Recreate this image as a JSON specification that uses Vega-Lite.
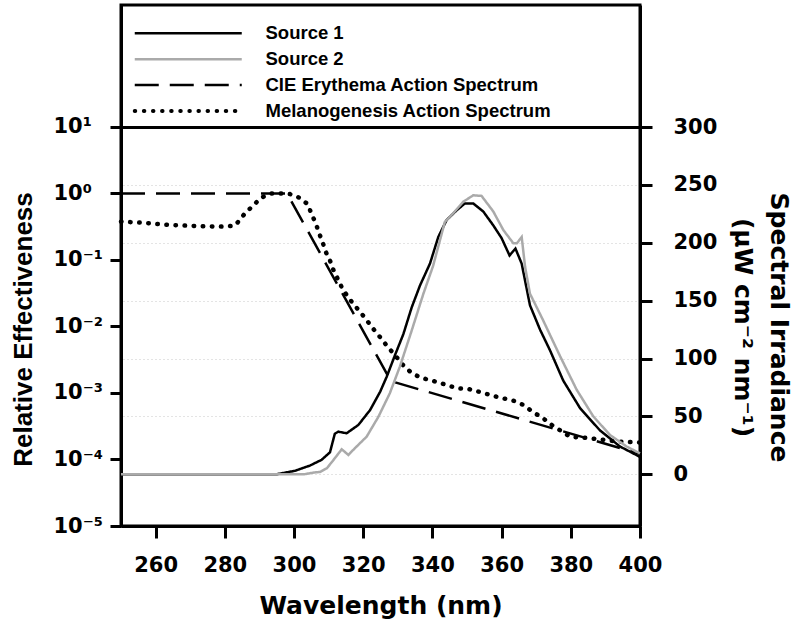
{
  "$schema": "https://vega.github.io/schema/vega-lite/v6.json",
  "width": 519,
  "height": 521,
  "autosize": {"type": "none"},
  "padding": {"left": 121, "top": 5, "right": 160, "bottom": 101},
  "background": "white",
  "config": {
    "view": {"stroke": "black", "strokeWidth": 3},
    "axis": {
      "domainColor": "black", "domainWidth": 3,
      "tickColor": "black", "tickWidth": 3, "tickSize": 12,
      "labelColor": "black", "titleColor": "black",
      "labelFont": "DejaVu Sans", "labelFontWeight": "bold", "labelFontSize": 21,
      "labelFlush": false,
      "grid": false
    }
  },
  "datasets": {
    "spectra": [
      {"series": "CIE Erythema Action Spectrum", "wavelength": 250, "eff": 1},
      {"series": "CIE Erythema Action Spectrum", "wavelength": 298, "eff": 1},
      {"series": "CIE Erythema Action Spectrum", "wavelength": 328, "eff": 0.00151},
      {"series": "CIE Erythema Action Spectrum", "wavelength": 400, "eff": 0.0001216},
      {"series": "Melanogenesis Action Spectrum", "wavelength": 250, "eff": 0.377},
      {"series": "Melanogenesis Action Spectrum", "wavelength": 256, "eff": 0.364},
      {"series": "Melanogenesis Action Spectrum", "wavelength": 264, "eff": 0.336},
      {"series": "Melanogenesis Action Spectrum", "wavelength": 272, "eff": 0.324},
      {"series": "Melanogenesis Action Spectrum", "wavelength": 280, "eff": 0.317},
      {"series": "Melanogenesis Action Spectrum", "wavelength": 283, "eff": 0.33},
      {"series": "Melanogenesis Action Spectrum", "wavelength": 285.5, "eff": 0.479},
      {"series": "Melanogenesis Action Spectrum", "wavelength": 288, "eff": 0.646},
      {"series": "Melanogenesis Action Spectrum", "wavelength": 290.6, "eff": 0.871},
      {"series": "Melanogenesis Action Spectrum", "wavelength": 293.5, "eff": 1.0},
      {"series": "Melanogenesis Action Spectrum", "wavelength": 296.2, "eff": 1.0},
      {"series": "Melanogenesis Action Spectrum", "wavelength": 298.8, "eff": 0.98},
      {"series": "Melanogenesis Action Spectrum", "wavelength": 301.4, "eff": 0.87},
      {"series": "Melanogenesis Action Spectrum", "wavelength": 304, "eff": 0.69},
      {"series": "Melanogenesis Action Spectrum", "wavelength": 305, "eff": 0.5},
      {"series": "Melanogenesis Action Spectrum", "wavelength": 306.3, "eff": 0.355},
      {"series": "Melanogenesis Action Spectrum", "wavelength": 307.2, "eff": 0.257},
      {"series": "Melanogenesis Action Spectrum", "wavelength": 308.2, "eff": 0.19},
      {"series": "Melanogenesis Action Spectrum", "wavelength": 309.2, "eff": 0.132},
      {"series": "Melanogenesis Action Spectrum", "wavelength": 310.4, "eff": 0.098},
      {"series": "Melanogenesis Action Spectrum", "wavelength": 311.4, "eff": 0.071},
      {"series": "Melanogenesis Action Spectrum", "wavelength": 314, "eff": 0.037},
      {"series": "Melanogenesis Action Spectrum", "wavelength": 316, "eff": 0.026},
      {"series": "Melanogenesis Action Spectrum", "wavelength": 318.3, "eff": 0.0186},
      {"series": "Melanogenesis Action Spectrum", "wavelength": 320.5, "eff": 0.0135},
      {"series": "Melanogenesis Action Spectrum", "wavelength": 322.7, "eff": 0.0095},
      {"series": "Melanogenesis Action Spectrum", "wavelength": 324.9, "eff": 0.0069},
      {"series": "Melanogenesis Action Spectrum", "wavelength": 327, "eff": 0.005},
      {"series": "Melanogenesis Action Spectrum", "wavelength": 329.2, "eff": 0.0037},
      {"series": "Melanogenesis Action Spectrum", "wavelength": 331.6, "eff": 0.0026},
      {"series": "Melanogenesis Action Spectrum", "wavelength": 333.8, "eff": 0.00204},
      {"series": "Melanogenesis Action Spectrum", "wavelength": 336.2, "eff": 0.00174},
      {"series": "Melanogenesis Action Spectrum", "wavelength": 338.8, "eff": 0.00158},
      {"series": "Melanogenesis Action Spectrum", "wavelength": 341.7, "eff": 0.00145},
      {"series": "Melanogenesis Action Spectrum", "wavelength": 344.6, "eff": 0.00129},
      {"series": "Melanogenesis Action Spectrum", "wavelength": 347.5, "eff": 0.00117},
      {"series": "Melanogenesis Action Spectrum", "wavelength": 350.4, "eff": 0.00115},
      {"series": "Melanogenesis Action Spectrum", "wavelength": 353.3, "eff": 0.00105},
      {"series": "Melanogenesis Action Spectrum", "wavelength": 358.1, "eff": 0.00089},
      {"series": "Melanogenesis Action Spectrum", "wavelength": 363.6, "eff": 0.00076},
      {"series": "Melanogenesis Action Spectrum", "wavelength": 366.3, "eff": 0.00066},
      {"series": "Melanogenesis Action Spectrum", "wavelength": 369, "eff": 0.00052},
      {"series": "Melanogenesis Action Spectrum", "wavelength": 371.9, "eff": 0.00042},
      {"series": "Melanogenesis Action Spectrum", "wavelength": 374.5, "eff": 0.00033},
      {"series": "Melanogenesis Action Spectrum", "wavelength": 379.8, "eff": 0.00022},
      {"series": "Melanogenesis Action Spectrum", "wavelength": 385, "eff": 0.00021},
      {"series": "Melanogenesis Action Spectrum", "wavelength": 393.7, "eff": 0.000186},
      {"series": "Melanogenesis Action Spectrum", "wavelength": 400, "eff": 0.00018}
    ],
    "sources": [
      {"series": "Source 1", "wavelength": 250, "irr": 0},
      {"series": "Source 1", "wavelength": 295, "irr": 0},
      {"series": "Source 1", "wavelength": 300.3, "irr": 3},
      {"series": "Source 1", "wavelength": 304.6, "irr": 7.5},
      {"series": "Source 1", "wavelength": 308, "irr": 12.5},
      {"series": "Source 1", "wavelength": 310.4, "irr": 19},
      {"series": "Source 1", "wavelength": 311.8, "irr": 35},
      {"series": "Source 1", "wavelength": 312.8, "irr": 36.8},
      {"series": "Source 1", "wavelength": 315.2, "irr": 35.4},
      {"series": "Source 1", "wavelength": 318.6, "irr": 42.6},
      {"series": "Source 1", "wavelength": 322, "irr": 55.5},
      {"series": "Source 1", "wavelength": 324.9, "irr": 71.3},
      {"series": "Source 1", "wavelength": 326.8, "irr": 84.3},
      {"series": "Source 1", "wavelength": 329.2, "irr": 103},
      {"series": "Source 1", "wavelength": 331.6, "irr": 121},
      {"series": "Source 1", "wavelength": 334, "irr": 144},
      {"series": "Source 1", "wavelength": 336.4, "irr": 163},
      {"series": "Source 1", "wavelength": 339.3, "irr": 182},
      {"series": "Source 1", "wavelength": 341.7, "irr": 205},
      {"series": "Source 1", "wavelength": 344.1, "irr": 219.6},
      {"series": "Source 1", "wavelength": 347, "irr": 228},
      {"series": "Source 1", "wavelength": 349.4, "irr": 234},
      {"series": "Source 1", "wavelength": 351.8, "irr": 234},
      {"series": "Source 1", "wavelength": 354.7, "irr": 227},
      {"series": "Source 1", "wavelength": 357.6, "irr": 215},
      {"series": "Source 1", "wavelength": 360, "irr": 204},
      {"series": "Source 1", "wavelength": 362.3, "irr": 189},
      {"series": "Source 1", "wavelength": 364, "irr": 195},
      {"series": "Source 1", "wavelength": 365.8, "irr": 182},
      {"series": "Source 1", "wavelength": 368.2, "irr": 146},
      {"series": "Source 1", "wavelength": 371.1, "irr": 125},
      {"series": "Source 1", "wavelength": 374, "irr": 107},
      {"series": "Source 1", "wavelength": 377.8, "irr": 81},
      {"series": "Source 1", "wavelength": 382.7, "irr": 57},
      {"series": "Source 1", "wavelength": 388.4, "irr": 38},
      {"series": "Source 1", "wavelength": 394.2, "irr": 24},
      {"series": "Source 1", "wavelength": 400, "irr": 15},
      {"series": "Source 2", "wavelength": 250, "irr": 0},
      {"series": "Source 2", "wavelength": 303, "irr": 0},
      {"series": "Source 2", "wavelength": 305.5, "irr": 1.4},
      {"series": "Source 2", "wavelength": 307.5, "irr": 2},
      {"series": "Source 2", "wavelength": 309.5, "irr": 5.2},
      {"series": "Source 2", "wavelength": 311.4, "irr": 12.3},
      {"series": "Source 2", "wavelength": 313.8, "irr": 21.6},
      {"series": "Source 2", "wavelength": 315.7, "irr": 16.7},
      {"series": "Source 2", "wavelength": 317.6, "irr": 22.5},
      {"series": "Source 2", "wavelength": 321, "irr": 32.5},
      {"series": "Source 2", "wavelength": 324.4, "irr": 49.7},
      {"series": "Source 2", "wavelength": 327.7, "irr": 70},
      {"series": "Source 2", "wavelength": 330.6, "irr": 93},
      {"series": "Source 2", "wavelength": 334, "irr": 124},
      {"series": "Source 2", "wavelength": 337.4, "irr": 156},
      {"series": "Source 2", "wavelength": 340.2, "irr": 180},
      {"series": "Source 2", "wavelength": 343.6, "irr": 218},
      {"series": "Source 2", "wavelength": 346, "irr": 225.4},
      {"series": "Source 2", "wavelength": 348.9, "irr": 235.4},
      {"series": "Source 2", "wavelength": 351.8, "irr": 241},
      {"series": "Source 2", "wavelength": 354.2, "irr": 240.5},
      {"series": "Source 2", "wavelength": 357.6, "irr": 227},
      {"series": "Source 2", "wavelength": 360.5, "irr": 211},
      {"series": "Source 2", "wavelength": 363.4, "irr": 199.5},
      {"series": "Source 2", "wavelength": 364.4, "irr": 199.5},
      {"series": "Source 2", "wavelength": 365.8, "irr": 205},
      {"series": "Source 2", "wavelength": 366.8, "irr": 179},
      {"series": "Source 2", "wavelength": 368.2, "irr": 156},
      {"series": "Source 2", "wavelength": 372, "irr": 133},
      {"series": "Source 2", "wavelength": 376.9, "irr": 102},
      {"series": "Source 2", "wavelength": 381.7, "irr": 73},
      {"series": "Source 2", "wavelength": 386.5, "irr": 50},
      {"series": "Source 2", "wavelength": 391.3, "irr": 34},
      {"series": "Source 2", "wavelength": 396.1, "irr": 24},
      {"series": "Source 2", "wavelength": 400, "irr": 18}
    ]
  },
  "layer": [
    {
      "encoding": {
        "x": {
          "field": "wavelength", "type": "quantitative",
          "scale": {"domain": [250, 400], "nice": false, "zero": false},
          "axis": {
            "values": [260, 280, 300, 320, 340, 360, 380, 400],
            "labelPadding": 16, "labelFlush": false,
            "title": "Wavelength (nm)",
            "titleFont": "DejaVu Sans", "titleFontSize": 25, "titleFontWeight": "bold",
            "titleX": 259.5, "titleY": 67, "titleBaseline": "top", "titleAlign": "center"
          }
        },
        "y": {
          "field": "eff", "type": "quantitative",
          "scale": {"type": "log", "domain": [0.00001, 683], "nice": false},
          "axis": {
            "orient": "left",
            "values": [0.00001, 0.0001, 0.001, 0.01, 0.1, 1, 10],
            "labelExpr": "['10⁻⁵','10⁻⁴','10⁻³','10⁻²','10⁻¹','10⁰','10¹'][round(log(datum.value)/LN10)+5]",
            "labelAlign": "left", "labelPadding": 57, "tickSize": 11,
            "grid": true, "gridColor": "black", "gridWidth": 3,
            "gridOpacity": {"condition": {"test": "datum.value > 5", "value": 1}, "value": 0},
            "title": "Relative Effectiveness",
            "titleFont": "Liberation Sans", "titleFontSize": 26, "titleFontWeight": "bold",
            "titleAngle": -90, "titleX": -111, "titleY": 324, "titleBaseline": "top", "titleAlign": "center"
          }
        },
        "color": {
          "field": "series", "type": "nominal",
          "scale": {
            "domain": ["Source 1", "Source 2", "CIE Erythema Action Spectrum", "Melanogenesis Action Spectrum"],
            "range": ["#000000", "#aaaaaa", "#000000", "#000000"]
          },
          "legend": {
            "orient": "none", "legendX": 58, "legendY": 19, "title": null,
            "symbolType": "stroke", "symbolSize": 11449, "symbolStrokeWidth": 2.5,
            "labelOffset": 68, "labelLimit": 400, "rowPadding": 6.9,
            "labelFont": "Liberation Sans", "labelFontWeight": "bold", "labelFontSize": 18.5, "labelColor": "black",
            "encode": {"symbols": {"update": {
              "strokeCap": {"signal": "datum.value === 'Melanogenesis Action Spectrum' ? 'round' : 'butt'"},
              "strokeWidth": {"signal": "datum.value === 'Melanogenesis Action Spectrum' ? 4 : 2.5"}
            }}}
          }
        },
        "strokeDash": {
          "field": "series", "type": "nominal",
          "scale": {
            "domain": ["Source 1", "Source 2", "CIE Erythema Action Spectrum", "Melanogenesis Action Spectrum"],
            "range": [[1, 0], [1, 0], [24, 11], [0.5, 8.6]]
          },
          "legend": {
            "orient": "none", "legendX": 58, "legendY": 19, "title": null,
            "symbolType": "stroke", "symbolSize": 11449, "symbolStrokeWidth": 2.5,
            "labelOffset": 68, "labelLimit": 400, "rowPadding": 6.9,
            "labelFont": "Liberation Sans", "labelFontWeight": "bold", "labelFontSize": 18.5, "labelColor": "black",
            "encode": {"symbols": {"update": {
              "strokeCap": {"signal": "datum.value === 'Melanogenesis Action Spectrum' ? 'round' : 'butt'"},
              "strokeWidth": {"signal": "datum.value === 'Melanogenesis Action Spectrum' ? 4 : 2.5"}
            }}}
          }
        }
      },
      "layer": [
        {
          "data": {"name": "spectra"},
          "transform": [{"filter": "datum.series === 'CIE Erythema Action Spectrum'"}],
          "mark": {"type": "line", "strokeWidth": 2.5, "strokeCap": "butt"}
        },
        {
          "data": {"name": "spectra"},
          "transform": [{"filter": "datum.series === 'Melanogenesis Action Spectrum'"}],
          "mark": {"type": "line", "strokeWidth": 4.5, "strokeCap": "round"}
        }
      ]
    },
    {
      "data": {"name": "sources"},
      "mark": {"type": "line", "strokeWidth": 2.5},
      "encoding": {
        "x": {
          "field": "wavelength", "type": "quantitative",
          "scale": {"domain": [250, 400], "nice": false, "zero": false}
        },
        "y": {
          "field": "irr", "type": "quantitative",
          "scale": {"domain": [-44.7, 405.4], "nice": false, "zero": false},
          "axis": {
            "orient": "right",
            "values": [0, 50, 100, 150, 200, 250, 300],
            "labelAlign": "left", "labelPadding": 21, "labelFlush": false,
            "grid": true, "gridColor": "#c8c8c8", "gridDash": [1, 3], "gridWidth": 1,
            "gridOpacity": {"condition": {"test": "datum.value > 290", "value": 0}, "value": 1},
            "title": ["Spectral Irradiance", "(µW cm⁻² nm⁻¹)"],
            "titleFont": "DejaVu Sans", "titleFontSize": 25, "titleFontWeight": "bold",
            "titleLineHeight": 36,
            "titleAngle": 90, "titleX": 150, "titleY": 322, "titleBaseline": "top", "titleAlign": "center"
          }
        },
        "color": {"field": "series", "type": "nominal"},
        "strokeDash": {"field": "series", "type": "nominal"}
      }
    }
  ],
  "resolve": {"scale": {"y": "independent"}}
}
